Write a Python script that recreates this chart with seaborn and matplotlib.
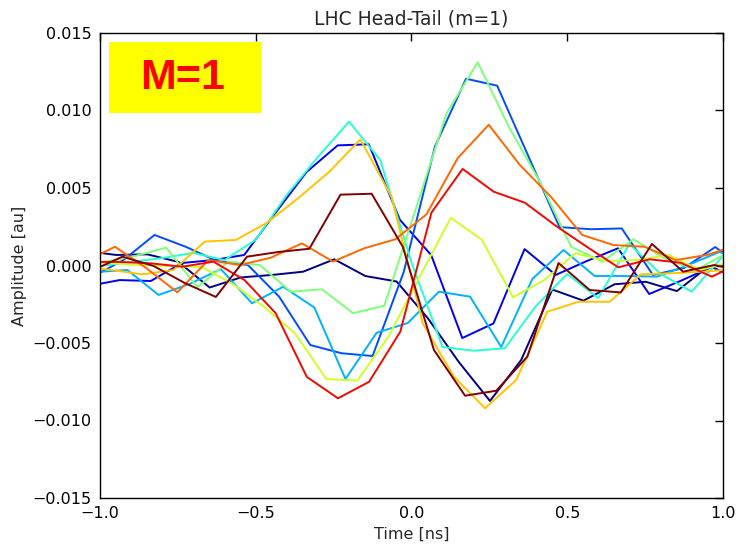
import numpy as np
import pandas as pd
import matplotlib
matplotlib.use("Agg")
import matplotlib.pyplot as plt
import seaborn as sns
from matplotlib.patches import Rectangle
from matplotlib.ticker import FuncFormatter

# Sampling interval of the head-tail monitor [ns]
STEP = 0.1

# Time of the first sample of each recorded turn [ns]
trace_start = [-1.048, -1.037, -1.025, -1.012, -1.1006, -1.0875,
               -1.074, -1.064, -1.052, -1.036, -1.028]

# Delta-signal amplitude per turn [au]
amp_00 = [0.00094, 0.00068, 0.00072, 0.00023, -0.00142, -0.00077, -0.00061,
          -0.0004, 0.0004, -0.00068, -0.00103, -0.00339, -0.00623, -0.00874,
          -0.0061, -0.00155, -0.00227, -0.00121, -0.00105, -0.00165, -0.00008,
          0.0001]
amp_01 = [-0.00132, -0.00094, -0.001, 0.00016, 0.00035, 0.00068, 0.00339,
          0.00603, 0.00775, 0.00782, 0.00294, 0.00068, -0.00468, -0.00374,
          0.00106, -0.00061, 0.00029, 0.00111, -0.00184, -0.001, -0.0001,
          -0.00094]
amp_02 = [-0.00074, 0.00035, 0.00197, 0.00121, 0.00029, 0.00003, -0.00201,
          -0.00513, -0.00566, -0.00584, -0.00042, 0.00766, 0.01205, 0.0116,
          0.00706, 0.00248, 0.00234, 0.00239, -0.00061, -0.00016, 0.00119,
          -0.00029]
amp_03 = [-0.00042, -0.00029, -0.0019, -0.00119, -0.00023, -0.00244, -0.00137,
          -0.00271, -0.00732, -0.00434, -0.00371, -0.00169, -0.00201, -0.00526,
          -0.00087, 0.001, -0.00068, -0.00068, -0.00072, 0.00003, 0.00087,
          0.00023]
amp_04 = [-0.00016, -0.00003, 0.00023, 0.00048, 0.00081, 0.00035, 0.00165,
          0.00455, 0.007, 0.00928, 0.00681, 0.00023, -0.00526, -0.0055,
          -0.00534, -0.00261, -0.00055, -0.0021, 0.00139, -0.00055, -0.00169,
          0.00061, 0.00023]
amp_05 = [0.00003, 0.00023, 0.00061, 0.00115, -0.00141, 0.00025, 0.00003,
          -0.00169, -0.00154, -0.00308, -0.00259, 0.00358, 0.00982, 0.01311,
          0.00894, 0.00539, 0.00121, 0.00025, 0.00169, 0.00046, -0.00029,
          0.00079, 0.00023]
amp_06 = [0.00023, 0.00016, 0.00003, -0.00003, -0.0001, -0.00119, -0.00266,
          -0.00437, -0.00732, -0.00743, -0.00459, -0.00074, 0.00308, 0.00165,
          -0.00205, -0.00094, 0.00079, 0.00029, 0.00035, 0.00068, -0.00029,
          0.00023]
amp_07 = [-0.00003, -0.00029, -0.00057, -0.00029, 0.00154, 0.00165, 0.00276,
          0.00434, 0.00605, 0.00814, 0.00442, -0.00373, -0.00717, -0.00921,
          -0.00739, -0.00298, -0.00234, -0.00234, -0.00057, -0.0005, -0.0004,
          -0.00023]
amp_08 = [0.00023, 0.00121, -0.00016, -0.00173, 0.00035, 0.00003, 0.0005,
          0.00143, 0.00025, 0.00111, 0.00169, 0.0033, 0.00692, 0.00908,
          0.00648, 0.00442, 0.00197, 0.00132, 0.00121, 0.00035, 0.00068,
          0.00132]
amp_09 = [0.00023, 0.00023, 0.00014, -0.00008, 0.00025, -0.00094, -0.00308,
          -0.00719, -0.00857, -0.0075, -0.00427, 0.00341, 0.00623, 0.00476,
          0.00405, 0.00255, 0.00119, -0.00012, 0.0004, 0.00018, -0.00072,
          0.00023]
amp_10 = [-0.00035, 0.00057, -0.00003, -0.00113, -0.00203, 0.00057, 0.00087,
          0.00108, 0.00457, 0.00463, 0.00121, -0.00545, -0.0084, -0.00808,
          -0.00588, 0.00016, -0.00158, -0.00174, 0.00139, -0.0004, 0.00003,
          -0.0004]

traces = [amp_00, amp_01, amp_02, amp_03, amp_04, amp_05,
          amp_06, amp_07, amp_08, amp_09, amp_10]

x_ticks = [-1.0, -0.5, 0.0, 0.5, 1.0]
y_ticks = [-0.015, -0.010, -0.005, 0.0, 0.005, 0.010, 0.015]

# Long-form table: one row per sample
rows = []
for turn, (t0, amp) in enumerate(zip(trace_start, traces)):
    for k, a in enumerate(amp):
        rows.append({"time": t0 + k * STEP, "amp": a, "turn": turn})
df = pd.DataFrame(rows)

palette = [plt.cm.jet(v) for v in np.linspace(0, 1, len(traces))]

sns.set_style("white")
plt.rcParams.update({
    "font.family": ["DejaVu Sans"],
    "xtick.direction": "in",
    "ytick.direction": "in",
    "xtick.top": True,
    "ytick.right": True,
    "xtick.major.size": 6,
    "ytick.major.size": 6,
    "xtick.major.width": 1.0,
    "ytick.major.width": 1.0,
    "axes.edgecolor": "black",
    "axes.linewidth": 1.0,
    "axes.unicode_minus": True,
})

fig = plt.figure(figsize=(7.36, 5.5), dpi=100)
ax = fig.add_axes([100 / 736, 1 - 498 / 550, 623 / 736, 465 / 550])

sns.lineplot(data=df, x="time", y="amp", hue="turn", palette=palette,
             estimator=None, sort=False, legend=False, linewidth=1.4, ax=ax)

ax.set_xlim(-1, 1)
ax.set_ylim(-0.015, 0.015)
ax.set_xticks(x_ticks)
ax.set_yticks(y_ticks)
ax.xaxis.set_major_formatter(FuncFormatter(lambda v, p: f"{v:.1f}".replace("-", "\u2212")))
ax.yaxis.set_major_formatter(FuncFormatter(lambda v, p: f"{v:.3f}".replace("-", "\u2212")))
ax.tick_params(labelsize=11.5, pad=6, colors="black")
for s in ax.spines.values():
    s.set_visible(True)
    s.set_color("black")

ax.set_xlabel("Time [ns]", fontsize=11.5)
ax.set_ylabel("Amplitude [au]", fontsize=11.5)
ax.set_title("LHC Head-Tail (m=1)", fontsize=13.5, pad=6)

# Mode label in a yellow box
ax.add_patch(Rectangle((0.0144, 0.828), 0.244, 0.1526, transform=ax.transAxes,
                       facecolor="#ffff00", edgecolor="none", zorder=5))
ax.text(0.133, 0.904, "M=1", transform=ax.transAxes, ha="center", va="center",
        color="#ff0000", fontsize=31, fontweight="bold",
        family=["Liberation Sans", "DejaVu Sans"], zorder=6)

fig.savefig("out.png", dpi=100)
